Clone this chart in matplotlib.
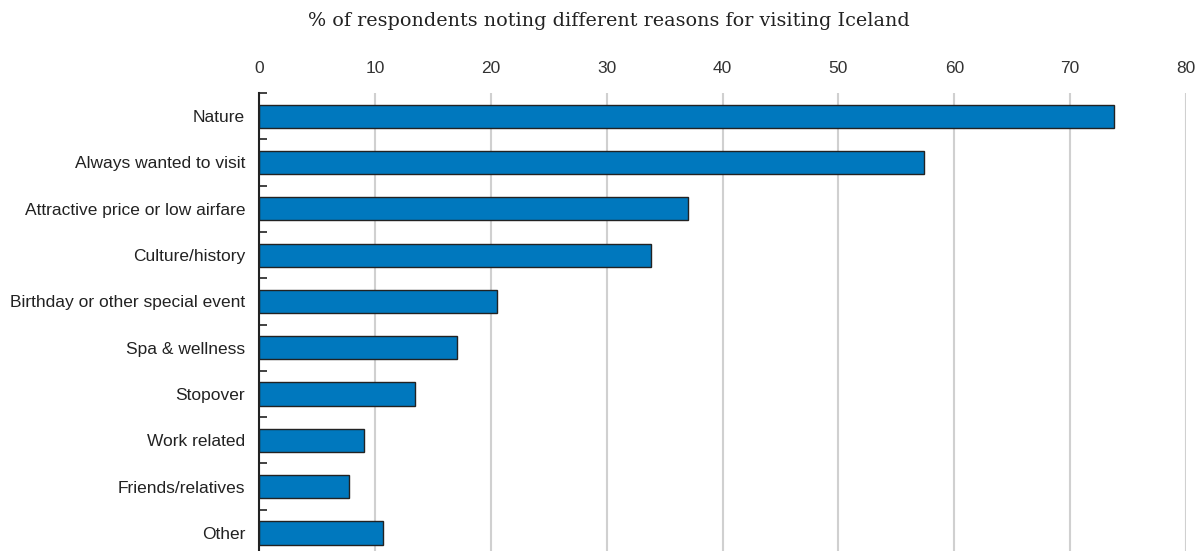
import matplotlib.pyplot as plt
from matplotlib import font_manager

# Reasons for visiting Iceland, % of respondents
reasons = ['Nature', 'Always wanted to visit', 'Attractive price or low airfare',
           'Culture/history', 'Birthday or other special event', 'Spa & wellness',
           'Stopover', 'Work related', 'Friends/relatives', 'Other']
shares = [73.8, 57.4, 37.0, 33.8, 20.5, 17.1, 13.5, 9.1, 7.8, 10.7]
xticks = [0, 10, 20, 30, 40, 50, 60, 70, 80]

installed = {f.name for f in font_manager.fontManager.ttflist}
sans = 'Liberation Sans Narrow' if 'Liberation Sans Narrow' in installed else 'Liberation Sans'
plt.rcParams['font.family'] = [sans, 'DejaVu Sans']

fig = plt.figure(figsize=(12, 5.51), dpi=100)
ax = fig.add_axes([259 / 1200, 0, 927 / 1200, 458 / 551])

pos = list(range(len(reasons)))
ax.barh(pos, shares, height=0.5, color='#0078be', edgecolor='#222222',
        linewidth=1, zorder=3)

ax.set_xlim(0, 80)
ax.set_ylim(9.39, -0.5)
ax.set_yticks(pos)
ax.set_yticklabels(reasons, fontsize=12.5, color='#222222')
ax.tick_params(axis='y', which='major', length=0, pad=10)
ax.set_yticks([p - 0.5 for p in pos], minor=True)
ax.tick_params(axis='y', which='minor', length=6, width=1.2, direction='in',
               color='#222222')

ax.set_xticks(xticks)
ax.xaxis.tick_top()
ax.tick_params(axis='x', length=0, pad=12, labelsize=12.5, labelcolor='#333333')
ax.grid(axis='x', color='#d0d0d0', linewidth=1.5, zorder=0)

for s in ['top', 'right', 'bottom']:
    ax.spines[s].set_visible(False)
ax.spines['left'].set_color('#222222')
ax.spines['left'].set_linewidth(1.5)
ax.spines['left'].set_zorder(4)

fig.text(609 / 1200, 0.962, '% of respondents noting different reasons for visiting Iceland',
         ha='center', va='center', fontsize=13.8, color='#222222',
         family=['DejaVu Serif'])

fig.savefig('out.png', dpi=100)
